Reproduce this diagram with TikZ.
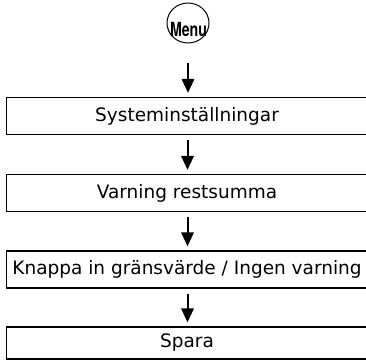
\documentclass[tikz,border=0pt]{standalone}
\usepackage{fontspec}
\setmainfont{DejaVu Sans}
\newfontfamily\menufont{TeX Gyre Heros}
\usetikzlibrary{arrows.meta,shapes.geometric}
\tikzset{
  stepbox/.style={draw, line width=1.3pt, rectangle, minimum width=361pt, minimum height=37pt, inner sep=0pt, font=\fontsize{18.5}{20}\selectfont},
  menunode/.style={draw, line width=1pt, ellipse, minimum width=42pt, minimum height=40pt, inner sep=0pt},
  arr/.style={line width=2pt, -{Triangle[width=12.5pt,length=14pt]}}
}
\begin{document}
\begin{tikzpicture}[x=1pt,y=1pt]
\useasboundingbox (0,0) rectangle (366,-360);
\clip (0,0) rectangle (366,-360);
\node[menunode] (menu) at (188,-23) {};
\node[inner sep=0pt, anchor=base] (menutext) at (188.5,-36.5) {\menufont\bfseries\fontsize{19.4}{20}\selectfont\scalebox{0.73}[1]{Menu}};
\node[stepbox] (b1) at (187,-116) {Systeminställningar};
\node[stepbox] (b2) at (187,-193) {Varning restsumma};
\node[stepbox] (b3) at (187,-269.5) {Knappa in gränsvärde / Ingen varning};
\node[stepbox, minimum height=32pt] (b4) at (187,-343) {Spara};
\draw[arr] ([yshift=-19pt]menu.south) -- ([xshift=1pt,yshift=4pt]b1.north);
\draw[arr] ([xshift=0.5pt,yshift=-5pt]b1.south) -- ([xshift=0.5pt,yshift=4pt]b2.north);
\draw[arr] ([xshift=0.5pt,yshift=-5pt]b2.south) -- ([xshift=0.5pt,yshift=4pt]b3.north);
\draw[arr] ([xshift=0.5pt,yshift=-5pt]b3.south) -- ([xshift=0.5pt,yshift=4pt]b4.north);
\end{tikzpicture}
\end{document}
